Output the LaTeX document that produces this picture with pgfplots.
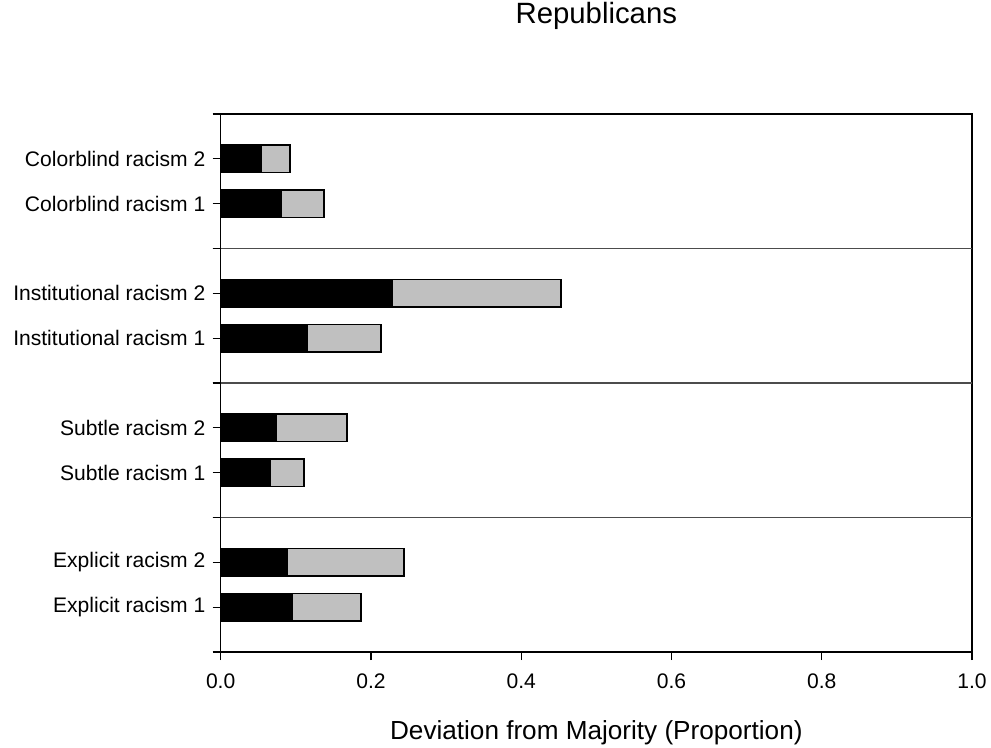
\documentclass[border=0pt]{standalone}
\usepackage{pgfplots}
\pgfplotsset{compat=1.18}
\usepackage{fontspec}
\setmainfont{Liberation Sans}
\definecolor{barblack}{HTML}{000000}
\definecolor{bargray}{HTML}{C0C0C0}
\begin{document}
\begin{tikzpicture}
\useasboundingbox (0,0) rectangle (743.25pt,560.25pt);
\begin{axis}[
  at={(165.5pt,71.25pt)}, anchor=south west,
  scale only axis,
  width=563.5pt, height=403.5pt,
  xmin=0, xmax=1, ymin=0, ymax=12,
  xbar stacked,
  bar width=0.61,
  xtick={0,0.2,0.4,0.6,0.8,1.0},
  /pgf/number format/fixed,
  /pgf/number format/fixed zerofill,
  /pgf/number format/precision=1,
  /pgf/number format/assume math mode=true,
  ytick={0,1,2,3,4,5,6,7,8,9,10,11,12},
  yticklabels={,Explicit racism 1,Explicit racism 2,,Subtle racism 1,Subtle racism 2,,Institutional racism 1,Institutional racism 2,,Colorblind racism 1,Colorblind racism 2,},
  extra y ticks={3,6,9},
  extra y tick labels={},
  extra y tick style={grid=major, major grid style={black!70, line width=0.8pt}},
  tick pos=left,
  tick align=outside,
  major tick length=6pt,
  tick style={black, line width=0.9pt},
  axis line style={line width=0.9pt},
  ticklabel style={font=\fontsize{15.8pt}{18pt}\selectfont},
  xticklabel style={yshift=-7pt},
  yticklabel style={xshift=-2pt},
  title={Republicans},
  title style={font=\fontsize{22pt}{26pt}\selectfont, anchor=base, at={(axis description cs:0.5,1.153)}},
  xlabel={Deviation from Majority (Proportion)},
  xlabel style={font=\fontsize{19.6pt}{23pt}\selectfont, anchor=base, at={(axis description cs:0.5,-0.1617)}},
  clip=false,
]
\addplot[fill=barblack, draw=black, line width=1.2pt] coordinates {
 (0.0958,1) (0.0886,2) (0.0656,4) (0.0736,5) (0.1148,7) (0.2289,8) (0.0802,10) (0.0536,11)};
\addplot[fill=bargray, draw=black, line width=1.2pt] coordinates {
 (0.0913,1) (0.1553,2) (0.0452,4) (0.0945,5) (0.0985,7) (0.2239,8) (0.0573,10) (0.0386,11)};
\end{axis}
\end{tikzpicture}
\end{document}
